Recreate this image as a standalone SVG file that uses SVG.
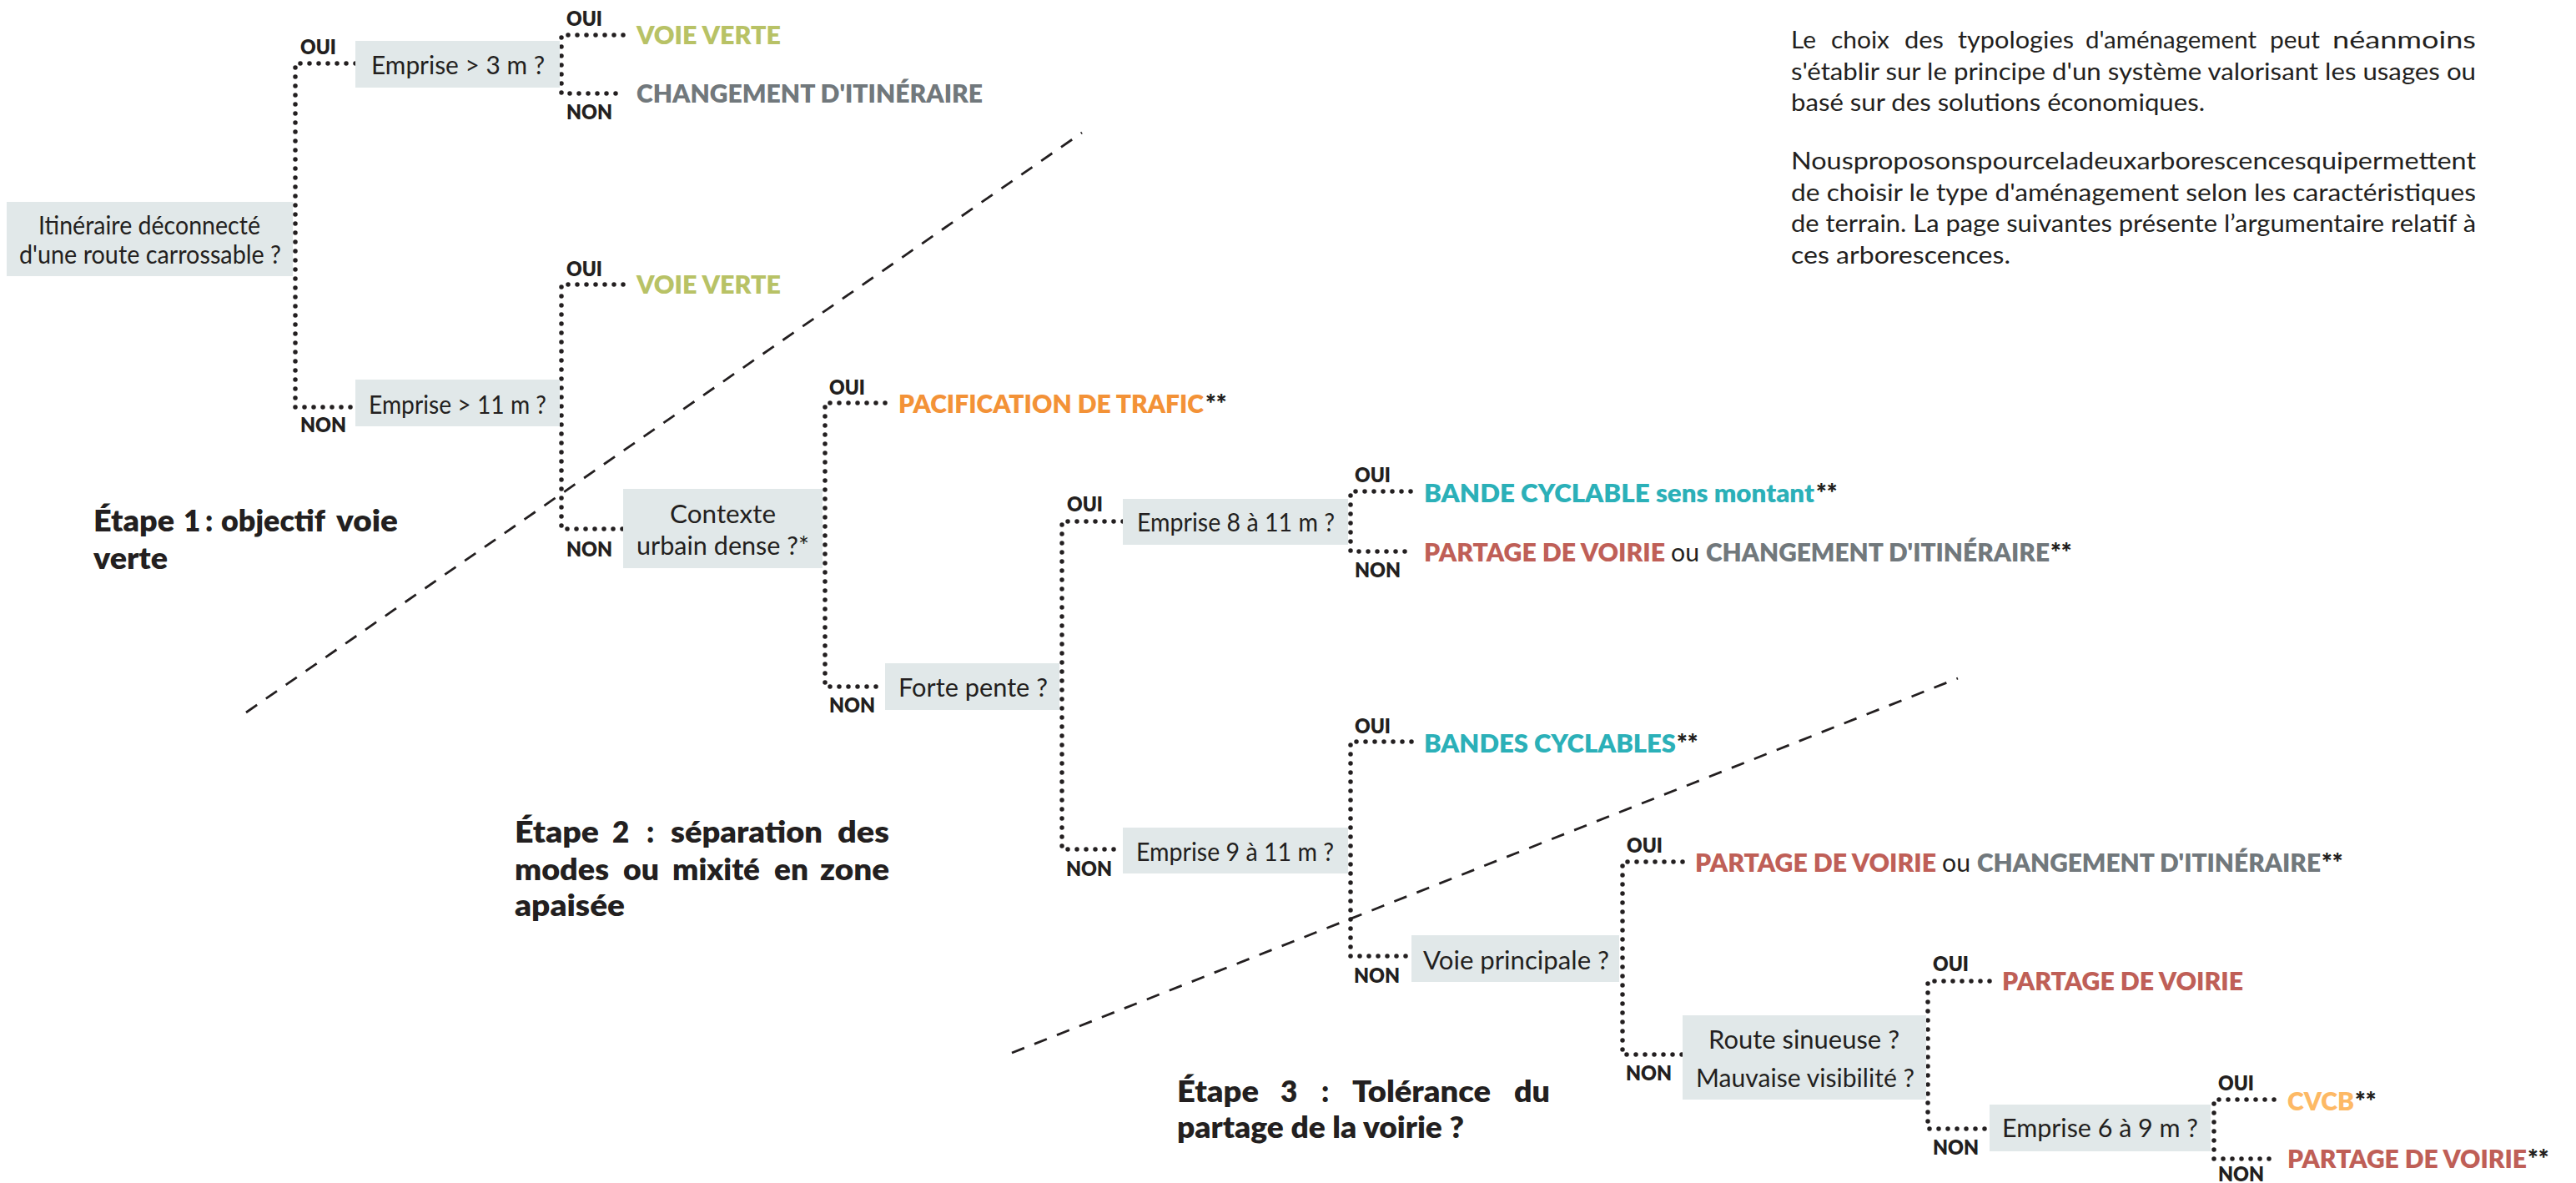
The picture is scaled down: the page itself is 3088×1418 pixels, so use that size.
<svg xmlns="http://www.w3.org/2000/svg" width="3088" height="1418" viewBox="0 0 3088 1418">
  <style>
    text { font-family: Lato, "Liberation Sans", sans-serif; fill: #231f20; }
    .box { fill: #e1e8e9; }
    .q { font-size: 31px; font-weight: 400; }
    .yn { font-size: 24px; font-weight: 800; }
    .out { font-size: 30px; font-weight: 800; }
    .ou { font-size: 30px; font-weight: 400; }
    .green { fill: #b8c266; }
    .gray { fill: #71787c; }
    .orange { fill: #f39237; }
    .teal { fill: #2bb0b8; }
    .red { fill: #bf5f57; }
    .peach { fill: #fdb965; }
    .link { fill: none; stroke: #231f20; stroke-width: 5.5; stroke-linecap: round; stroke-dasharray: 0 11; }
    .sep { fill: none; stroke: #231f20; stroke-width: 2.8; stroke-dasharray: 16 13; }
    .step { font-size: 35px; font-weight: 800; }
    .para { font-size: 28px; font-weight: 400; fill: #3a3637; }
  </style>

  <!-- stage separators -->
  <g id="separators">
    <line class="sep" x1="295" y1="854" x2="1297" y2="159"/>
    <line class="sep" x1="1213" y1="1262" x2="2347" y2="813"/>
  </g>

  <!-- yes/no branches -->
  <g id="connectors">
    <path class="link" d="M426,76 H354 V488 H426"/>
    <path class="link" d="M747,42 H673 V112 H747"/>
    <path class="link" d="M747,341 H673 V634 H747"/>
    <path class="link" d="M1061,483 H989 V823 H1061"/>
    <path class="link" d="M1346,625 H1273 V1018 H1346"/>
    <path class="link" d="M1691,589 H1619 V661 H1691"/>
    <path class="link" d="M1692,889 H1619 V1146 H1692"/>
    <path class="link" d="M2017,1033 H1945 V1264 H2017"/>
    <path class="link" d="M2385,1176 H2311 V1353 H2385"/>
    <path class="link" d="M2726,1318 H2654 V1389 H2726"/>

    <g class="yn">
      <text x="360" y="65" textLength="43" lengthAdjust="spacingAndGlyphs">OUI</text>
      <text x="360" y="518" textLength="55" lengthAdjust="spacingAndGlyphs">NON</text>
      <text x="679" y="31" textLength="43" lengthAdjust="spacingAndGlyphs">OUI</text>
      <text x="679" y="143" textLength="55" lengthAdjust="spacingAndGlyphs">NON</text>
      <text x="679" y="331" textLength="43" lengthAdjust="spacingAndGlyphs">OUI</text>
      <text x="679" y="667" textLength="55" lengthAdjust="spacingAndGlyphs">NON</text>
      <text x="994" y="473" textLength="43" lengthAdjust="spacingAndGlyphs">OUI</text>
      <text x="994" y="854" textLength="55" lengthAdjust="spacingAndGlyphs">NON</text>
      <text x="1279" y="613" textLength="43" lengthAdjust="spacingAndGlyphs">OUI</text>
      <text x="1278" y="1050" textLength="55" lengthAdjust="spacingAndGlyphs">NON</text>
      <text x="1624" y="578" textLength="43" lengthAdjust="spacingAndGlyphs">OUI</text>
      <text x="1624" y="692" textLength="55" lengthAdjust="spacingAndGlyphs">NON</text>
      <text x="1624" y="879" textLength="43" lengthAdjust="spacingAndGlyphs">OUI</text>
      <text x="1623" y="1178" textLength="55" lengthAdjust="spacingAndGlyphs">NON</text>
      <text x="1950" y="1022" textLength="43" lengthAdjust="spacingAndGlyphs">OUI</text>
      <text x="1949" y="1295" textLength="55" lengthAdjust="spacingAndGlyphs">NON</text>
      <text x="2317" y="1164" textLength="43" lengthAdjust="spacingAndGlyphs">OUI</text>
      <text x="2317" y="1384" textLength="55" lengthAdjust="spacingAndGlyphs">NON</text>
      <text x="2659" y="1307" textLength="43" lengthAdjust="spacingAndGlyphs">OUI</text>
      <text x="2659" y="1416" textLength="55" lengthAdjust="spacingAndGlyphs">NON</text>
    </g>
  </g>

  <!-- decision nodes -->
  <g id="q-itineraire">
    <rect class="box" x="8" y="242" width="343" height="89"/>
    <text class="q" x="46" y="281" font-size="29" textLength="266" lengthAdjust="spacingAndGlyphs">Itinéraire déconnecté</text>
    <text class="q" x="23" y="316" font-size="29" textLength="314" lengthAdjust="spacingAndGlyphs">d'une route carrossable ?</text>
  </g>
  <g id="q-emprise-3">
    <rect class="box" x="426" y="49" width="245" height="56"/>
    <text class="q" x="445" y="89" textLength="208" lengthAdjust="spacingAndGlyphs">Emprise &gt; 3 m ?</text>
  </g>
  <g id="q-emprise-11">
    <rect class="box" x="426" y="455" width="245" height="56"/>
    <text class="q" x="442" y="496" textLength="213" lengthAdjust="spacingAndGlyphs">Emprise &gt; 11 m ?</text>
  </g>
  <g id="q-contexte">
    <rect class="box" x="747" y="586" width="239" height="95"/>
    <text class="q" x="803" y="627" textLength="127" lengthAdjust="spacingAndGlyphs">Contexte</text>
    <text class="q" x="763" y="665" textLength="207" lengthAdjust="spacingAndGlyphs">urbain dense ?*</text>
  </g>
  <g id="q-pente">
    <rect class="box" x="1061" y="795" width="209" height="56"/>
    <text class="q" x="1077" y="835" textLength="179" lengthAdjust="spacingAndGlyphs">Forte pente ?</text>
  </g>
  <g id="q-emprise-8-11">
    <rect class="box" x="1346" y="598" width="270" height="55"/>
    <text class="q" x="1363" y="637" textLength="237" lengthAdjust="spacingAndGlyphs">Emprise 8 à 11 m ?</text>
  </g>
  <g id="q-emprise-9-11">
    <rect class="box" x="1346" y="992" width="270" height="55"/>
    <text class="q" x="1362" y="1032" textLength="237" lengthAdjust="spacingAndGlyphs">Emprise 9 à 11 m ?</text>
  </g>
  <g id="q-voie-principale">
    <rect class="box" x="1692" y="1121" width="249" height="56"/>
    <text class="q" x="1706" y="1162" textLength="223" lengthAdjust="spacingAndGlyphs">Voie principale ?</text>
  </g>
  <g id="q-route-sinueuse">
    <rect class="box" x="2017" y="1217" width="292" height="101"/>
    <text class="q" x="2048" y="1257" textLength="229" lengthAdjust="spacingAndGlyphs">Route sinueuse ?</text>
    <text class="q" x="2033" y="1303" textLength="262" lengthAdjust="spacingAndGlyphs">Mauvaise visibilité ?</text>
  </g>
  <g id="q-emprise-6-9">
    <rect class="box" x="2385" y="1324" width="265" height="56"/>
    <text class="q" x="2400" y="1363" textLength="235" lengthAdjust="spacingAndGlyphs">Emprise 6 à 9 m ?</text>
  </g>

  <!-- outcomes -->
  <g id="r-voie-verte-1">
    <text class="out green" x="763" y="53" textLength="173" lengthAdjust="spacingAndGlyphs">VOIE VERTE</text>
  </g>
  <g id="r-changement-1">
    <text class="out gray" x="763" y="123" textLength="415" lengthAdjust="spacingAndGlyphs">CHANGEMENT D'ITINÉRAIRE</text>
  </g>
  <g id="r-voie-verte-2">
    <text class="out green" x="763" y="352" textLength="173" lengthAdjust="spacingAndGlyphs">VOIE VERTE</text>
  </g>
  <g id="r-pacification">
    <text class="out orange" x="1077" y="495" textLength="366" lengthAdjust="spacingAndGlyphs">PACIFICATION DE TRAFIC</text>
    <text class="out" x="1445" y="495">**</text>
  </g>
  <g id="r-bande-montant">
    <text class="out teal" x="1707" y="602" textLength="468" lengthAdjust="spacingAndGlyphs">BANDE CYCLABLE sens montant</text>
    <text class="out" x="2177" y="602">**</text>
  </g>
  <g id="r-partage-changement-1">
    <text class="out red" x="1707" y="673" textLength="289" lengthAdjust="spacingAndGlyphs">PARTAGE DE VOIRIE</text>
    <text class="ou" x="2003" y="673" textLength="34" lengthAdjust="spacingAndGlyphs">ou</text>
    <text class="out gray" x="2045" y="673" textLength="412" lengthAdjust="spacingAndGlyphs">CHANGEMENT D'ITINÉRAIRE</text>
    <text class="out" x="2458" y="673">**</text>
  </g>
  <g id="r-bandes-cyclables">
    <text class="out teal" x="1707" y="902" textLength="302" lengthAdjust="spacingAndGlyphs">BANDES CYCLABLES</text>
    <text class="out" x="2010" y="902">**</text>
  </g>
  <g id="r-partage-changement-2">
    <text class="out red" x="2032" y="1045" textLength="289" lengthAdjust="spacingAndGlyphs">PARTAGE DE VOIRIE</text>
    <text class="ou" x="2328" y="1045" textLength="34" lengthAdjust="spacingAndGlyphs">ou</text>
    <text class="out gray" x="2370" y="1045" textLength="412" lengthAdjust="spacingAndGlyphs">CHANGEMENT D'ITINÉRAIRE</text>
    <text class="out" x="2783" y="1045">**</text>
  </g>
  <g id="r-partage-1">
    <text class="out red" x="2400" y="1187" textLength="289" lengthAdjust="spacingAndGlyphs">PARTAGE DE VOIRIE</text>
  </g>
  <g id="r-cvcb">
    <text class="out peach" x="2742" y="1331" textLength="80" lengthAdjust="spacingAndGlyphs">CVCB</text>
    <text class="out" x="2823" y="1331">**</text>
  </g>
  <g id="r-partage-2">
    <text class="out red" x="2742" y="1400" textLength="287" lengthAdjust="spacingAndGlyphs">PARTAGE DE VOIRIE</text>
    <text class="out" x="3030" y="1400">**</text>
  </g>

  <!-- stage captions -->
  <g id="etape-1" class="step">
    <text x="112" y="637" textLength="97" lengthAdjust="spacingAndGlyphs">Étape</text>
    <text x="220" y="637">1</text>
    <text x="246" y="637">:</text>
    <text x="265" y="637" textLength="125" lengthAdjust="spacingAndGlyphs">objectif</text>
    <text x="403" y="637" textLength="74" lengthAdjust="spacingAndGlyphs">voie</text>
    <text x="112" y="682" textLength="89" lengthAdjust="spacingAndGlyphs">verte</text>
  </g>
  <g id="etape-2" class="step">
    <text x="617" y="1010" textLength="101" lengthAdjust="spacingAndGlyphs">Étape</text>
    <text x="734" y="1010">2</text>
    <text x="775" y="1010">:</text>
    <text x="804" y="1010" textLength="182" lengthAdjust="spacingAndGlyphs">séparation</text>
    <text x="1004" y="1010" textLength="62" lengthAdjust="spacingAndGlyphs">des</text>
    <text x="617" y="1055" textLength="113" lengthAdjust="spacingAndGlyphs">modes</text>
    <text x="747" y="1055" textLength="43" lengthAdjust="spacingAndGlyphs">ou</text>
    <text x="806" y="1055" textLength="105" lengthAdjust="spacingAndGlyphs">mixité</text>
    <text x="928" y="1055" textLength="41" lengthAdjust="spacingAndGlyphs">en</text>
    <text x="983" y="1055" textLength="83" lengthAdjust="spacingAndGlyphs">zone</text>
    <text x="617" y="1098" textLength="132" lengthAdjust="spacingAndGlyphs">apaisée</text>
  </g>
  <g id="etape-3" class="step">
    <text x="1411" y="1321" textLength="98" lengthAdjust="spacingAndGlyphs">Étape</text>
    <text x="1535" y="1321">3</text>
    <text x="1584" y="1321">:</text>
    <text x="1621" y="1321" textLength="166" lengthAdjust="spacingAndGlyphs">Tolérance</text>
    <text x="1815" y="1321" textLength="43" lengthAdjust="spacingAndGlyphs">du</text>
    <text x="1411" y="1364" textLength="344" lengthAdjust="spacingAndGlyphs">partage de la voirie ?</text>
  </g>

  <!-- introductory paragraph -->
  <g id="intro" class="para">
    <text x="2147" y="58" textLength="30" lengthAdjust="spacingAndGlyphs">Le</text>
    <text x="2195" y="58" textLength="70" lengthAdjust="spacingAndGlyphs">choix</text>
    <text x="2283" y="58" textLength="47" lengthAdjust="spacingAndGlyphs">des</text>
    <text x="2347" y="58" textLength="139" lengthAdjust="spacingAndGlyphs">typologies</text>
    <text x="2500" y="58" textLength="205" lengthAdjust="spacingAndGlyphs">d'aménagement</text>
    <text x="2721" y="58" textLength="60" lengthAdjust="spacingAndGlyphs">peut</text>
    <text x="2796" y="58" textLength="172" lengthAdjust="spacingAndGlyphs">néanmoins</text>
    <text x="2147" y="96" textLength="821" lengthAdjust="spacingAndGlyphs">s'établir sur le principe d'un système valorisant les usages ou</text>
    <text x="2147" y="133" textLength="496" lengthAdjust="spacingAndGlyphs">basé sur des solutions économiques.</text>
    <text x="2147" y="203" textLength="821" lengthAdjust="spacingAndGlyphs">Nousproposonspourceladeuxarborescencesquipermettent</text>
    <text x="2147" y="241" textLength="821" lengthAdjust="spacingAndGlyphs">de choisir le type d'aménagement selon les caractéristiques</text>
    <text x="2147" y="278" textLength="821" lengthAdjust="spacingAndGlyphs">de terrain. La page suivantes présente l’argumentaire relatif à</text>
    <text x="2147" y="316" textLength="263" lengthAdjust="spacingAndGlyphs">ces arborescences.</text>
  </g>
</svg>
